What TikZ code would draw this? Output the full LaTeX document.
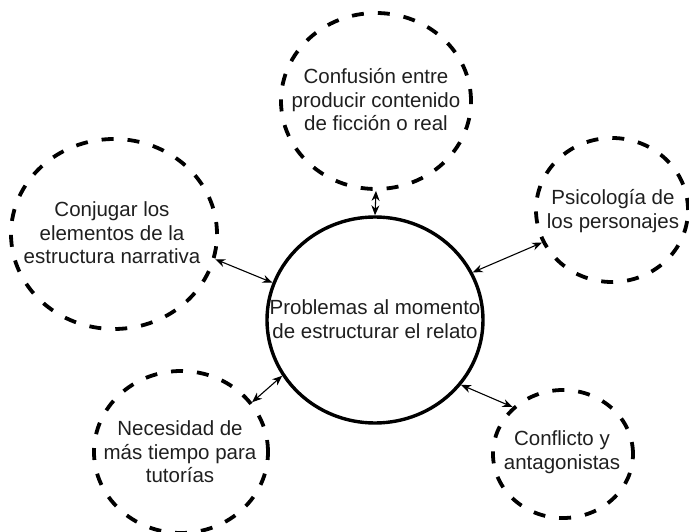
\documentclass[tikz,border=0pt]{standalone}
\usepackage{fontspec}
\setmainfont{Liberation Sans}
\usetikzlibrary{shapes.geometric,arrows.meta}
\begin{document}
\begin{tikzpicture}[x=1pt,y=-1pt,
  dell/.style={ellipse, draw=black, line width=3.8pt, dash pattern=on 12pt off 14pt, inner sep=0pt},
  cell/.style={ellipse, draw=black, line width=3.4pt, inner sep=0pt},
  txt/.style={align=center, font=\fontsize{20.5}{23.5}\selectfont, text=black!88, inner sep=0pt},
  conn/.style={{Stealth[length=10pt,width=8pt]}-{Stealth[length=10pt,width=8pt]}, line width=1.1pt}]
\useasboundingbox (0,0) rectangle (689,532);
% central
\node[cell, minimum width=216pt, minimum height=206pt] (C) at (375,320) {};
\node[txt] (Ct) at (375,319) {Problemas al momento\\de estructurar el relato};
% top
\node[dell, minimum width=190pt, minimum height=176pt] (T) at (376,101) {};
\node[txt] (Tt) at (376,100) {Confusión entre\\producir contenido\\de ficción o real};
% left
\node[dell, minimum width=206pt, minimum height=190pt] (L) at (114,234) {};
\node[txt] (Lt) at (112,233) {Conjugar los\\elementos de la\\estructura narrativa};
% right
\node[dell, minimum width=152pt, minimum height=144pt] (R) at (612,210) {};
\node[txt] (Rt) at (613,211) {Psicología de\\los personajes};
% bottom left
\node[dell, minimum width=174pt, minimum height=162pt] (BL) at (181,452) {};
\node[txt] (BLt) at (180,452) {Necesidad de\\más tiempo para\\tutorías};
% bottom right
\node[dell, minimum width=140pt, minimum height=128pt] (BR) at (563,454) {};
\node[txt] (BRt) at (562,452) {Conflicto y\\antagonistas};
% connectors
\draw[conn] (T.270) -- (C.90);
\draw[conn] (L.-14) -- (C.160);
\draw[conn] (C.26) -- (R.205);
\draw[conn] (C.211) -- (BL.35);
\draw[conn] (C.-37) -- (BR.137);
\end{tikzpicture}
\end{document}
